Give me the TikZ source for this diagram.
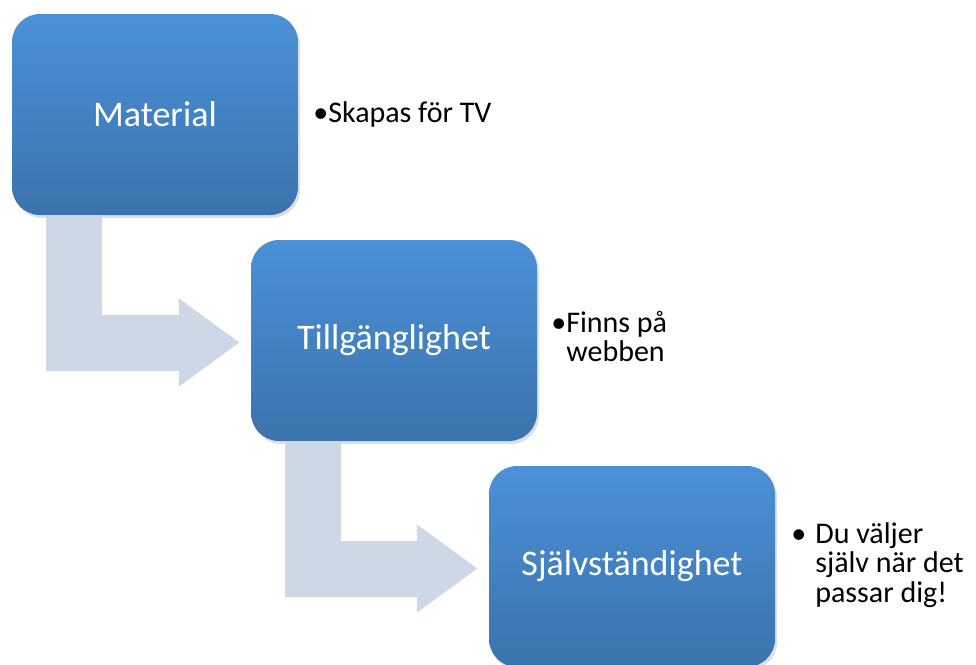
\documentclass[tikz,border=0pt]{standalone}
\usepackage{fontspec}
\setmainfont{Carlito}
\usepackage{tikz}
\usetikzlibrary{arrows.meta,positioning,shadows}
\definecolor{boxtop}{RGB}{75,145,215}
\definecolor{boxbottom}{RGB}{59,115,173}
\definecolor{arrowfill}{RGB}{206,215,230}

\begin{document}
\begin{tikzpicture}[
    node distance=226pt,
    stepbox/.style={
		rectangle,
		rounded corners=28pt,
		minimum width=286pt,
		minimum height=201pt,
		top color=boxtop,
		bottom color=boxbottom,
		text=white,
		font=\fontsize{36}{40}\selectfont,
		drop shadow={opacity=0.25, shadow xshift=2pt, shadow yshift=-3pt}
	},
	note/.style={
		anchor=west,
		inner sep=0pt,
		font=\fontsize{30}{29}\selectfont
	},
	bentarrow/.style={
		draw=arrowfill,
		line width=56pt,
		line join=miter,
		-{Triangle[length=61pt,width=84pt]}
	}
  ]
  \useasboundingbox (0,0) rectangle (976pt,-664pt);

    % We start by placing the blocks
  \node [stepbox] (material) at (155pt,-114.5pt) {Material};
  \node [stepbox, below of=material, xshift=239pt] (tillg) {Tillgänglighet};
  \node [stepbox, below of=tillg, xshift=238pt] (sjalv) {Självständighet};

  % the texts beside them
  \node [note, right=15pt of material.east] (skapas) {•Skapas för TV};
  \node [note, right=14pt of tillg.east] (finns)
 {%
 \begin{tabular}{@{}l@{}l@{}}
  •&Finns på\\
  &webben
 \end{tabular}
 };
  \node [note, right=16pt of sjalv.east] (valjer)
 {%
 \begin{tabular}{@{}l@{\hspace{9pt}}l@{}}
  •&Du väljer\\
  &själv när det\\
  &passar dig!
 \end{tabular}
 };

 % the bent arrows
 \draw [bentarrow] ([xshift=62pt]material.south west) |- ([xshift=-11pt,yshift=-2pt]tillg.west);
 \draw [bentarrow] ([xshift=62pt]tillg.south west) |- ([xshift=-11pt,yshift=-2pt]sjalv.west);

\end{tikzpicture}
\end{document}
